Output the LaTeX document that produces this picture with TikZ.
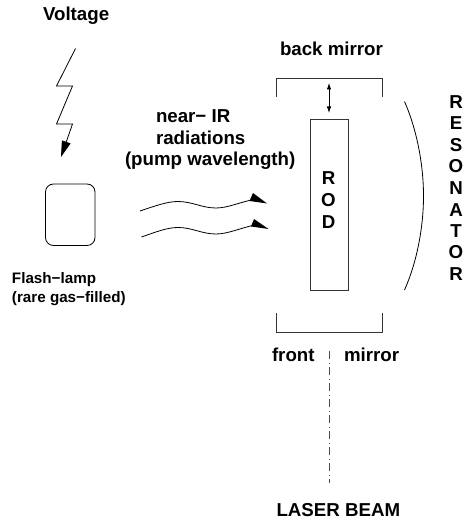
\documentclass[tikz,border=0pt]{standalone}
\usepackage{fontspec}
\setmainfont{Liberation Sans}
\usetikzlibrary{arrows.meta}
\tikzset{
  every node/.style={inner sep=0pt,outer sep=0pt},
  lbl/.style={font=\fontsize{18.7}{22}\bfseries,anchor=base west},
  smalllbl/.style={font=\fontsize{15.2}{18}\bfseries,anchor=base west},
  letter/.style={font=\fontsize{18.7}{22}\bfseries,anchor=base},
  ln/.style={draw=black,line width=0.8pt},
  bracket/.style={draw=black!80,line width=1pt},
  filled/.style={-{Triangle[length=16pt,width=9pt]}},
  bolt/.style={ln,line join=miter},
}
\begin{document}
\begin{tikzpicture}[x=1pt,y=-1pt]
\useasboundingbox (0,0) rectangle (464,521);
\node[lbl] (volt) at (43,21) {Voltage};
\coordinate (b0) at (75.5,48.5);
\coordinate (b5) at (61,157);
\draw[bolt,filled] (b0) -- (56.5,86) -- (72.5,86) -- (56.5,124) -- (72.5,124) -- (b5);
\node[ln,draw,rounded corners=8pt,minimum width=49.5pt,minimum height=61.5pt] (lamp) at (70.25,214.75) {};
\node[smalllbl] (fl1) at (12,283.5) {Flash−lamp};
\node[smalllbl] (fl2) at (12,302.3) {(rare gas−filled)};
\node[lbl] (n1) at (156,123) {near− IR};
\node[lbl] (n2) at (156,145) {radiations};
\node[lbl] (n3) at (125,166) {(pump wavelength)};
\coordinate (w1) at (140,211); \coordinate (w1e) at (267,203.5);
\coordinate (w2) at (141.5,237); \coordinate (w2e) at (268.5,229);
\draw[ln] (w1) .. controls (155,206) and (167,201.5) .. (178,201.5)
  .. controls (192,201.5) and (202,208) .. (216,208)
  .. controls (228,208) and (240,202) .. (256,199);
\fill (253,193) -- (w1e) -- (249.5,201) -- cycle;
\draw[ln] (w2) .. controls (156,232) and (167,227.5) .. (178,227.5)
  .. controls (192,227.5) and (202,234) .. (216,234)
  .. controls (228,234) and (240,228) .. (257,224.5);
\fill (254,219) -- (w2e) -- (251,226.5) -- cycle;
\node[lbl] (back) at (280,56) {back mirror};
\coordinate (bm1) at (276,97); \coordinate (bm2) at (382,97);
\draw[bracket] (bm1) -- (276,78.7) -- (382,78.7) -- (bm2);
\node[draw=black!80,line width=1pt,minimum width=38pt,minimum height=170pt] (rod) at (329,205) {};
\coordinate (da1) at (329,83); \coordinate (da2) at (329,113);
\draw[ln,{Latex[length=6.5pt,width=4.5pt]}-{Latex[length=6.5pt,width=4.5pt]}] (da1) -- (da2);
\node[letter] (r1) at (328.5,185) {R};
\node[letter] (r2) at (328.5,207) {O};
\node[letter] (r3) at (328.5,228) {D};
\coordinate (arc1) at (404.5,101.5); \coordinate (arc2) at (404.5,290);
\draw[ln] (arc1) .. controls (417,130) and (423.5,165) .. (423.5,196) .. controls (423.5,227) and (417,262) .. (arc2);
\node[letter] (a1) at (456,108.7) {R};
\node[letter] (a2) at (456,130) {E};
\node[letter] (a3) at (456,152) {S};
\node[letter] (a4) at (456,173) {O};
\node[letter] (a5) at (456,195) {N};
\node[letter] (a6) at (456,216) {A};
\node[letter] (a7) at (456,237) {T};
\node[letter] (a8) at (456,258) {O};
\node[letter] (a9) at (456,280) {R};
\coordinate (fm1) at (276,313); \coordinate (fm2) at (382,313);
\draw[bracket] (fm1) -- (276,332) -- (382,332) -- (fm2);
\node[lbl] (front) at (272,361.7) {front};
\node[lbl] (mirror) at (344,361.7) {mirror};
\coordinate (beam1) at (329,351);
\node[lbl] (laser) at (276.5,516.7) {LASER BEAM};
\coordinate (beam2) at (329,483);
\draw[draw=black!70,line width=0.9pt,dash pattern=on 8pt off 3.5pt on 1pt off 3.5pt] (beam1) -- (beam2);
\end{tikzpicture}
\end{document}
